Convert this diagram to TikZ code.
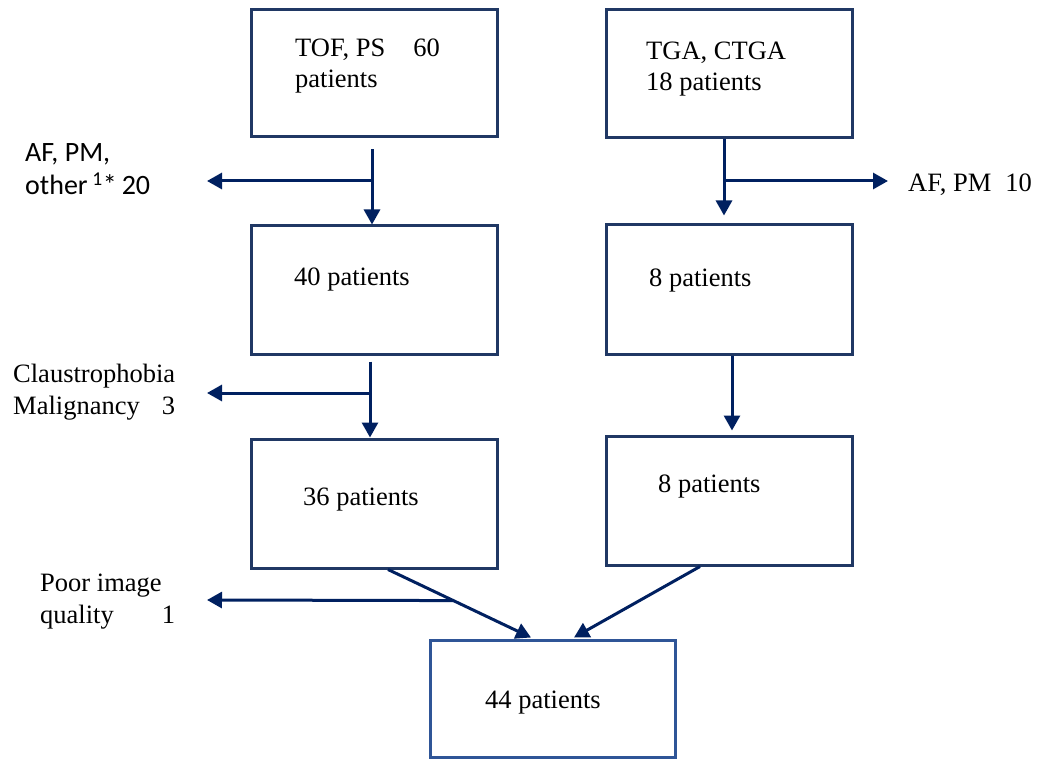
\documentclass[tikz,border=0pt]{standalone}
\usepackage{fontspec}
\setmainfont{Liberation Serif}
\newfontfamily\calfont{Carlito}
\usetikzlibrary{arrows.meta,calc}
\definecolor{boxc}{RGB}{32,56,100}
\definecolor{boxg}{RGB}{47,85,151}
\definecolor{arrc}{RGB}{0,32,96}
\tikzset{
  box/.style={draw=boxc,line width=3pt,minimum width=246pt,inner sep=0pt},
  lastbox/.style={draw=boxg,line width=3pt,minimum width=245pt,inner sep=0pt},
  arr/.style={draw=arrc,line width=3pt,-{Triangle[length=15pt,width=16pt]}},
  txt/.style={inner sep=0pt,anchor=base west,font=\fontsize{26.5}{31}\selectfont},
  stxt/.style={inner sep=0pt,anchor=base west,align=left,font=\calfont\fontsize{28}{33}\selectfont},
  ltxt/.style={inner sep=0pt,anchor=base west,align=left,font=\fontsize{26.5}{31.5}\selectfont},
}
\begin{document}
\begin{tikzpicture}[x=1pt,y=-1pt]
\useasboundingbox (0,0) rectangle (1052,759);
% boxes
\node[box,minimum height=127pt] (A) at (374,73.5) {};
\node[box,minimum height=128pt] (B) at (729,74) {};
\node[box,minimum height=128pt] (C) at (374,290) {};
\node[box,minimum height=129pt] (D) at (729,289.5) {};
\node[box,minimum height=129pt] (E) at (374,503.5) {};
\node[box,minimum height=129pt] (F) at (729,500.5) {};
\node[lastbox,minimum height=117pt] (G) at (552.5,698.5) {};
% box texts
\node[txt] (tA1) at (295,57) {TOF, PS\hspace{28pt}60};
\node[txt] (tA2) at (295,88) {patients};
\node[txt] (tB1) at (646,60) {TGA, CTGA};
\node[txt] (tB2) at (646,91) {18 patients};
\node[txt] (tC) at (294,286) {40 patients};
\node[txt] (tD) at (649,287) {8 patients};
\node[txt] (tE) at (303,505) {36 patients};
\node[txt] (tF) at (658,492) {8 patients};
\node[txt] (tG) at (485,708) {44 patients};
% side labels (base = last line)
\node[stxt] (l1) at (25,195) {AF, PM,\\other\,\textsuperscript{1}*\hspace{5pt}20};
\node[txt] (r1) at (908,192) {AF, PM\hspace{14pt}10};
\node[ltxt] (l2) at (13,414) {Claustrophobia\\Malignancy\hspace{22pt}3};
\node[ltxt] (l3) at (40,623) {Poor image\\quality\hspace{48pt}1};
% coordinates
\coordinate (j1) at (372,181);
\coordinate (e1) at (207,181);
\coordinate (j2) at (724,181);
\coordinate (e2) at (888,181);
\coordinate (j3) at (370,393);
\coordinate (e3) at (207,393);
\coordinate (e4) at (207,600);
% connectors
\draw[arr] ([xshift=-2pt,yshift=-11pt]A.south) -- ([xshift=-2pt]C.north);
\draw[arr] (j1) -- (e1);
\draw[arr] ([xshift=-5pt]B.south) -- ([xshift=-5pt,yshift=8pt]D.north);
\draw[arr] (j2) -- (e2);
\draw[arr] ([xshift=-4pt,yshift=-6pt]C.south) -- ([xshift=-4pt]E.north);
\draw[arr] (j3) -- (e3);
\draw[arr] ([xshift=3pt]D.south) -- ([xshift=3pt,yshift=4pt]F.north);
\draw[arr] ([xshift=14pt]E.south) -- ([xshift=-21.5pt,yshift=1pt]G.north);
\draw[arr] ([xshift=-29pt]F.south) -- ([xshift=21.5pt,yshift=1pt]G.north);
\coordinate (j4) at ($([xshift=14pt]E.south)!0.457!([xshift=-21.5pt,yshift=1pt]G.north)$);
\draw[arr] (j4) -- (e4);
\end{tikzpicture}
\end{document}
